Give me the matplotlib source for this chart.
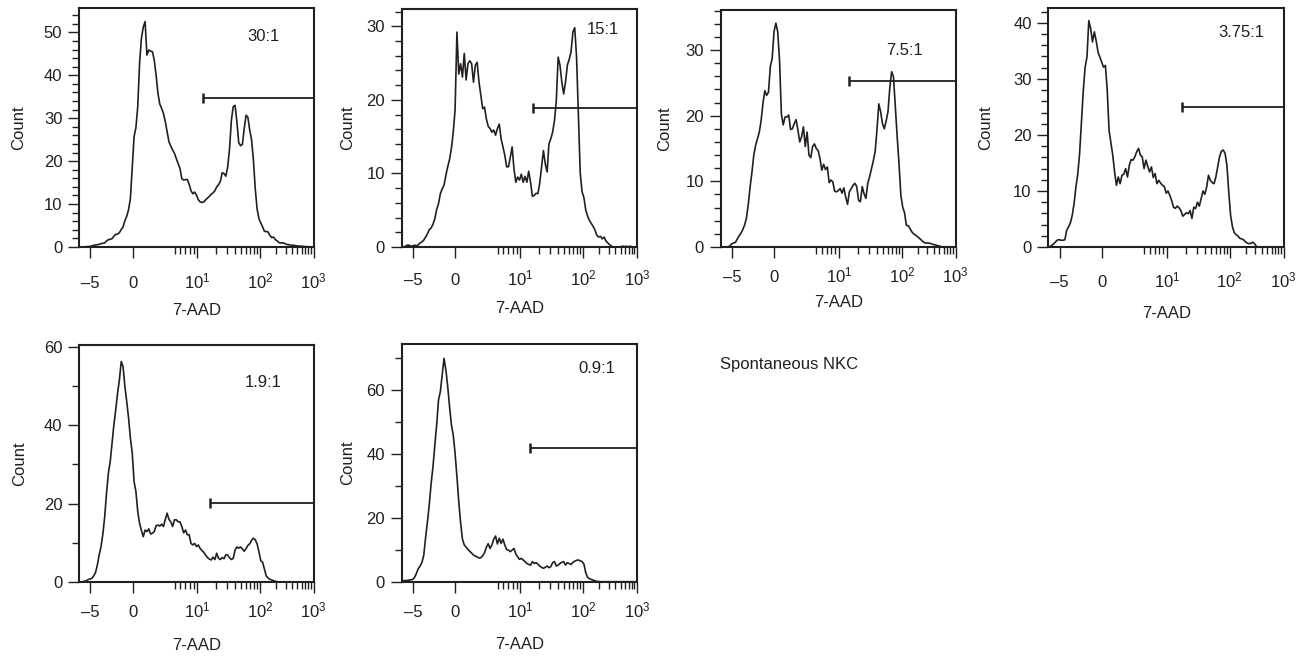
import numpy as np
import matplotlib
matplotlib.use("Agg")
import matplotlib.pyplot as plt
from matplotlib.ticker import FixedLocator, MultipleLocator

plt.rcParams['font.family'] = ['Liberation Sans', 'DejaVu Sans']
plt.rcParams['mathtext.fontset'] = 'custom'
plt.rcParams['mathtext.rm'] = 'Liberation Sans'
plt.rcParams['mathtext.it'] = 'Liberation Sans:italic'
plt.rcParams['mathtext.bf'] = 'Liberation Sans:bold'

INK = '#231f20'

# 7-AAD histograms, 8-channel bins over a 1024-channel display range
channels = list(range(0, 1024, 8))

ratios = ["30:1", "15:1", "7.5:1", "3.75:1", "1.9:1", "0.9:1"]

counts_30 = [0, 0, 0, 0.05, 0.08, 0.1, 0.15, 0.25, 0.4, 0.45,
             0.55, 0.6, 0.8, 0.85, 0.95, 1.4, 1.7, 1.8, 1.95, 2.5,
             2.95, 3.0, 3.35, 4.05, 4.65, 6.15, 7.15, 8.7, 11.3, 18.7,
             25.7, 27.8, 32.7, 42.8, 48.6, 51.2, 52.5, 44.7, 45.9, 45.6,
             45.5, 43.5, 40.0, 35.8, 33.3, 32.3, 31.1, 29.2, 26.8, 24.5,
             23.5, 22.6, 21.8, 20.6, 19.4, 18.3, 15.9, 15.6, 15.7, 15.7,
             14.6, 13.1, 12.4, 12.8, 12.1, 11.0, 10.5, 10.4, 10.5, 11.0,
             11.4, 11.8, 12.3, 12.6, 13.1, 14.0, 14.5, 15.3, 17.3, 17.1,
             16.5, 18.7, 22.9, 29.5, 32.7, 33.0, 29.2, 24.3, 23.6, 23.9,
             27.6, 30.7, 30.2, 27.2, 25.0, 20.2, 13.6, 8.9, 6.6, 5.6,
             4.7, 3.65, 3.6, 3.5, 2.7, 2.2, 2.3, 1.7, 1.4, 1.0,
             0.95, 0.95, 0.85, 0.6, 0.55, 0.45, 0.4, 0.4, 0.3, 0.25,
             0.2, 0.2, 0.15, 0.1, 0.08, 0.05, 0.03, 0]
counts_15 = [0, 0, 0.1, 0.25, 0.25, 0.1, 0.15, 0.25, 0.15, 0.3,
             0.55, 0.7, 0.95, 1.35, 1.8, 2.35, 2.6, 3.1, 3.85, 5.1,
             5.9, 7.25, 7.9, 8.4, 9.75, 10.9, 11.9, 13.4, 15.6, 18.6,
             29.2, 23.5, 24.9, 23.1, 26.3, 22.7, 24.9, 25.3, 24.9, 22.4,
             24.7, 25.1, 22.4, 20.6, 18.8, 19.0, 17.4, 16.4, 16.1, 15.6,
             15.9, 15.2, 16.1, 16.7, 14.7, 13.6, 12.5, 10.9, 10.9, 12.2,
             13.6, 10.6, 8.8, 9.5, 9.1, 9.9, 8.8, 9.6, 8.8, 10.3,
             8.8, 6.9, 7.0, 7.3, 7.25, 8.7, 10.9, 13.1, 11.3, 10.2,
             14.0, 14.7, 15.6, 17.2, 19.9, 25.8, 24.7, 22.4, 20.8, 22.4,
             24.7, 25.5, 26.5, 29.2, 29.8, 25.8, 17.7, 10.0, 7.5, 6.7,
             5.0, 4.2, 3.6, 3.2, 2.8, 2.3, 1.6, 1.35, 1.45, 1.1,
             1.35, 0.8, 0.55, 0.3, 0.1, 0, 0, 0, 0, 0.05,
             0.1, 0.05, 0.1, 0.05, 0.1, 0.05, 0, 0]
counts_7_5 = [0, 0, 0, 0, 0.05, 0.15, 0.5, 0.6, 0.7, 1.2,
              1.7, 2.1, 2.65, 3.35, 4.4, 6.5, 9.15, 11.4, 14.0, 15.5,
              16.5, 17.5, 19.3, 21.9, 23.8, 23.1, 23.6, 27.5, 28.7, 32.8,
              34.1, 32.8, 28.5, 20.3, 18.6, 19.8, 19.8, 20.1, 17.9, 18.0,
              18.8, 19.4, 17.8, 16.0, 16.8, 18.3, 15.3, 17.5, 14.0, 13.6,
              15.3, 15.7, 15.0, 14.7, 13.5, 11.7, 12.6, 11.8, 12.2, 9.8,
              10.2, 9.9, 8.5, 8.4, 8.6, 8.9, 8.2, 9.0, 7.6, 6.5,
              8.4, 8.9, 9.4, 9.7, 9.2, 7.1, 6.9, 9.2, 8.1, 7.4,
              9.7, 10.7, 11.9, 13.1, 14.5, 17.8, 21.8, 20.6, 18.8, 18.0,
              19.2, 20.6, 24.3, 26.7, 25.9, 21.4, 16.8, 12.7, 7.9, 6.1,
              5.2, 3.3, 3.25, 2.8, 2.3, 2.0, 1.8, 1.6, 1.35, 1.1,
              0.8, 0.65, 0.6, 0.6, 0.55, 0.45, 0.35, 0.3, 0.2, 0.15,
              0.05, 0, 0, 0, 0, 0, 0, 0]
counts_3_75 = [0, 0.1, 0.3, 0.6, 0.95, 1.25, 1.3, 1.2, 1.2, 1.3,
               3.0, 3.6, 4.3, 5.65, 7.75, 10.7, 13.0, 16.7, 22.3, 27.9,
               32.1, 33.9, 40.4, 39.0, 36.6, 38.4, 36.8, 34.8, 33.9, 33.0,
               32.1, 32.4, 28.0, 20.8, 18.6, 16.4, 13.4, 11.0, 12.5, 11.3,
               12.8, 13.0, 14.0, 12.5, 14.6, 15.6, 15.5, 16.1, 17.0, 17.6,
               16.4, 16.1, 14.0, 15.5, 14.4, 13.4, 14.3, 12.4, 13.1, 11.3,
               11.9, 11.4, 11.0, 10.8, 9.6, 10.0, 9.2, 8.3, 7.1, 6.9,
               7.3, 7.0, 6.5, 5.5, 5.8, 6.1, 5.95, 6.5, 5.1, 7.1,
               6.85, 8.0, 7.3, 8.6, 10.0, 9.4, 10.7, 12.8, 11.9, 11.5,
               11.3, 12.5, 14.3, 16.1, 17.1, 17.3, 16.7, 14.6, 9.8, 5.65,
               3.6, 2.55, 2.2, 1.95, 1.55, 1.45, 1.3, 0.95, 0.7, 0.6,
               0.65, 0.85, 0.6, 0.1, 0, 0, 0, 0, 0, 0,
               0, 0, 0, 0, 0, 0, 0, 0]
counts_1_9 = [0, 0.1, 0.15, 0.25, 0.4, 0.7, 0.85, 1.0, 1.6, 2.5,
              4.4, 7.0, 9.1, 12.3, 16.7, 22.7, 27.8, 30.7, 35.4, 40.1,
              43.9, 48.1, 51.5, 56.2, 54.9, 49.8, 46.0, 41.8, 36.7, 32.9,
              25.6, 23.1, 18.0, 15.0, 13.2, 11.6, 13.3, 12.9, 13.6, 12.3,
              12.5, 12.9, 14.4, 14.6, 14.3, 14.8, 14.2, 16.0, 17.6, 16.0,
              15.4, 14.2, 15.9, 15.9, 15.4, 15.4, 14.2, 12.6, 13.3, 12.1,
              12.1, 9.9, 9.5, 9.9, 9.1, 9.5, 8.6, 8.1, 7.6, 6.9,
              6.3, 5.9, 5.7, 6.4, 5.8, 7.4, 6.1, 5.8, 6.3, 6.0,
              7.0, 6.9, 6.2, 5.8, 6.1, 8.2, 9.0, 8.7, 9.0, 8.5,
              7.9, 8.6, 9.4, 9.8, 10.7, 11.2, 10.8, 9.8, 7.8, 5.5,
              5.1, 3.3, 1.6, 1.1, 0.75, 0.6, 0.4, 0.25, 0.15, 0.1,
              0.05, 0, 0, 0, 0, 0, 0, 0, 0, 0,
              0, 0, 0, 0, 0, 0, 0, 0]
counts_0_9 = [0.5, 0.3, 0.35, 0.4, 0.5, 0.6, 0.7, 1.35, 2.6, 4.1,
              4.9, 6.05, 8.35, 13.9, 18.8, 24.3, 30.8, 36.0, 42.8, 49.1,
              56.9, 59.5, 64.7, 69.9, 66.3, 61.1, 54.8, 49.1, 45.9, 40.2,
              32.9, 25.1, 18.5, 13.3, 11.5, 10.8, 10.1, 9.5, 8.9, 8.35,
              8.0, 7.8, 7.4, 7.5, 8.1, 9.1, 10.8, 11.9, 10.4, 11.5,
              13.3, 14.3, 11.8, 13.6, 12.0, 13.3, 11.5, 10.1, 9.9, 9.4,
              9.9, 10.4, 8.7, 7.8, 7.0, 7.3, 6.8, 6.3, 5.7, 5.4,
              5.2, 6.3, 5.7, 5.95, 5.5, 4.9, 4.5, 4.2, 4.5, 4.9,
              4.4, 4.7, 5.95, 6.3, 4.9, 5.2, 5.7, 6.05, 6.3, 5.2,
              5.95, 5.7, 5.4, 6.05, 6.4, 6.7, 6.8, 6.5, 6.3, 5.5,
              2.8, 1.35, 0.95, 0.7, 0.5, 0.3, 0.1, 0.05, 0, 0,
              0, 0, 0, 0, 0, 0, 0, 0, 0, 0,
              0, 0, 0, 0, 0, 0, 0, 0]

all_counts = [counts_30, counts_15, counts_7_5, counts_3_75, counts_1_9, counts_0_9]

# positive-marker gate: start channel and drawing level
gate_start = [542, 572, 557, 583, 573, 559]
gate_level = [34.8, 18.9, 25.3, 24.9, 20.3, 41.8]

y_max = [55.6, 32.3, 36.1, 42.6, 60.4, 74.4]
y_major = [10, 10, 10, 10, 20, 20]
y_minor = [2, 2, 2, 2, 10, 10]

x_tick_values = [-5, 0, 10, 100, 1000]
x_tick_labels = ['\u20135', '0', '$10^{1}$', '$10^{2}$', '$10^{3}$']
x_minor_values = [5, 6, 7, 8, 9,
                  20, 30, 40, 50, 60, 70, 80, 90,
                  200, 300, 400, 500, 600, 700, 800, 900]


def to_channel(v):
    """Biexponential-style display transform of 7-AAD intensity to channel."""
    c_m5, c_0, c_1, c_2, c_3 = 49.0, 233.5, 515.0, 788.5, 1022.0
    if v <= 0:
        return c_0 + v / 5.0 * (c_0 - c_m5)
    if v <= 10:
        return c_0 + (c_1 - c_0) * np.arcsinh(v / 3.5) / np.arcsinh(10 / 3.5)
    if v <= 100:
        return c_1 + (np.log10(v) - 1) * (c_2 - c_1)
    return c_2 + (np.log10(v) - 2) * (c_3 - c_2)


W, H = 1312, 656
# axes boxes in pixels: left, right, top, bottom
boxes = [(79, 314, 8.3, 247), (401.7, 637.3, 9.3, 247),
         (720.7, 956, 10, 247), (1048.3, 1284, 8.3, 247),
         (79, 314, 345, 582.3), (401.7, 637.3, 344, 581.7)]
label_pos = [(0.783, 0.88), (0.853, 0.913), (0.783, 0.831),
             (0.82, 0.897), (0.784, 0.84), (0.828, 0.895)]
ylabel_x = [-0.255, -0.228, -0.237, -0.267, -0.251, -0.228]
xlabel_y = [-0.268, -0.257, -0.233, -0.277, -0.265, -0.266]
xtick_pad = [21.6, 19.4, 17.3, 20.9, 17.1, 17.5]

fig = plt.figure(figsize=(W / 100, H / 100), dpi=100)

for i in range(6):
    l, r, t, b = boxes[i]
    ax = fig.add_axes([l / W, 1 - b / H, (r - l) / W, (b - t) / H])
    ax.plot(channels, all_counts[i], color=INK, lw=1.2, solid_joinstyle='round')
    ax.plot([gate_start[i], 1024], [gate_level[i], gate_level[i]],
            color=INK, lw=1.3, solid_capstyle='butt')
    ax.plot([gate_start[i]], [gate_level[i]], marker='|', ms=7, mew=1.8, color=INK)

    ax.set_xlim(0, 1024)
    ax.set_ylim(0, y_max[i])
    ax.xaxis.set_major_locator(FixedLocator([to_channel(v) for v in x_tick_values]))
    ax.xaxis.set_minor_locator(FixedLocator([to_channel(v) for v in x_minor_values]))
    ax.set_xticklabels(x_tick_labels)
    ax.yaxis.set_major_locator(MultipleLocator(y_major[i]))
    ax.yaxis.set_minor_locator(MultipleLocator(y_minor[i]))

    for s in ax.spines.values():
        s.set_linewidth(1.5)
        s.set_color(INK)
    ax.tick_params(which='major', length=8, width=1.0, color=INK,
                   labelsize=12, labelcolor=INK)
    ax.tick_params(which='minor', length=5, width=1.0, color=INK)
    ax.tick_params(axis='x', which='major', pad=xtick_pad[i])
    ax.tick_params(axis='y', which='major', pad=4)
    for lab in ax.get_xticklabels():
        lab.set_va('baseline')

    ax.set_ylabel('Count', fontsize=12, color=INK)
    ax.yaxis.set_label_coords(ylabel_x[i], 0.5)
    ax.yaxis.label.set_va('center')
    ax.set_xlabel('7-AAD', fontsize=12, color=INK)
    ax.xaxis.set_label_coords(0.5, xlabel_y[i])
    ax.xaxis.label.set_va('center')

    ax.text(label_pos[i][0], label_pos[i][1], ratios[i], transform=ax.transAxes,
            ha='center', va='center', fontsize=12, color=INK)

fig.text(720 / W, 1 - 365 / H, 'Spontaneous NKC', ha='left', va='center',
         fontsize=12, color=INK)

fig.savefig('out.png', dpi=100)
